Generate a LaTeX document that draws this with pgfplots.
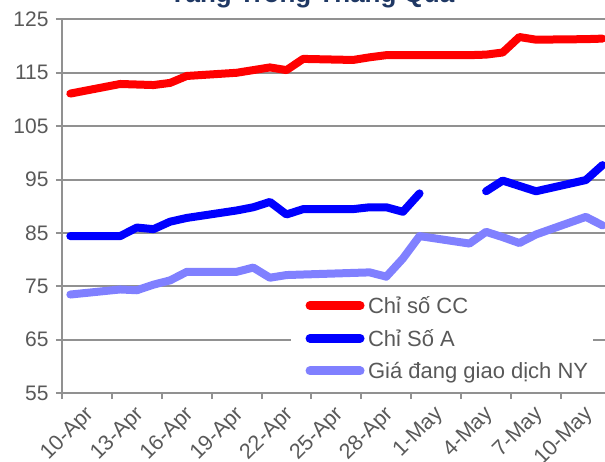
\documentclass[border=0pt]{standalone}
\usepackage{fontspec}
\setmainfont{Liberation Sans}
\usepackage{pgfplots}
\pgfplotsset{compat=1.18}
\definecolor{gridgray}{RGB}{145,145,145}
\definecolor{txtgray}{RGB}{89,89,89}
\definecolor{navy}{RGB}{31,56,100}
\definecolor{nyblue}{RGB}{128,128,255}
\begin{document}
\begin{tikzpicture}
\begin{axis}[
  scale only axis,
  width=548.8bp, height=373.6bp,
  xmin=-0.5, xmax=32.5, ymin=55, ymax=125,
  axis lines*=left,
  axis line style={-, draw=gridgray, line width=2bp},
  ytick={55,65,75,85,95,105,115,125},
  ymajorgrids,
  grid style={draw=gridgray, line width=2bp},
  xtick={-0.5,2.5,5.5,8.5,11.5,14.5,17.5,20.5,23.5,26.5,29.5},
  xticklabels={10-Apr,13-Apr,16-Apr,19-Apr,22-Apr,25-Apr,28-Apr,1-May,4-May,7-May,10-May},
  tick align=outside,
  major tick length=6bp,
  tick style={draw=gridgray, line width=2bp},
  /pgf/number format/assume math mode=true,
  yticklabel style={font=\fontsize{21bp}{24bp}\selectfont, text=txtgray, xshift=-4bp},
  xticklabel style={font=\fontsize{21.5bp}{24bp}\selectfont, text=txtgray, xshift=31bp, yshift=-10bp, rotate=45, anchor=east},
  title={Tăng Trong Tháng Qua},
  title style={font=\bfseries\fontsize{26bp}{30bp}\selectfont, text=navy, at={(axis description cs:0.4555,1.0305)}, anchor=base},
  unbounded coords=jump,
  legend style={at={(axis description cs:0.417,0.270)}, anchor=north west, fill=white, draw=none,
    font=\fontsize{22bp}{26bp}\selectfont, text=txtgray, row sep=10.5bp,
    /tikz/every odd column/.append style={column sep=1.5bp}},
  legend cell align=left,
  legend image code/.code={\path (0bp,0bp); \draw[#1, line width=9bp, line cap=round] (12bp,0bp) -- (62bp,0bp);},
  every axis plot/.append style={line width=8bp, line cap=round, line join=round, mark=none},
]
\addplot[color=red] coordinates {
(0,111.1) (3,112.9) (4,112.8) (5,112.7) (6,113.1) (7,114.4) (10,115.0) (11,115.5) (12,116.0) (13,115.5) (14,117.6) (17,117.4) (18,117.9) (19,118.3) (20,118.3) (21,118.3) (24,118.3) (25,118.4) (26,118.8) (27,121.7) (28,121.2) (31,121.3) (32,121.4)
};
\addlegendentry{Chỉ số CC}
\addplot[color=blue] coordinates {
(0,84.4) (3,84.4) (4,86.0) (5,85.7) (6,87.1) (7,87.8) (10,89.2) (11,89.8) (12,90.8) (13,88.45) (14,89.45) (17,89.45) (18,89.8) (19,89.8) (20,88.95) (21,92.4) (24,nan) (25,92.8) (26,94.8) (27,93.8) (28,92.8) (31,94.9) (32,97.7)
};
\addlegendentry{Chỉ Số A}
\addplot[color=nyblue] coordinates {
(0,73.45) (3,74.4) (4,74.25) (5,75.3) (6,76.1) (7,77.7) (10,77.7) (11,78.5) (12,76.6) (13,77.1) (14,77.2) (17,77.5) (18,77.6) (19,76.8) (20,80.2) (21,84.4) (24,83.0) (25,85.2) (26,84.2) (27,83.1) (28,84.7) (31,88.0) (32,86.4)
};
\addlegendentry{Giá đang giao dịch NY}
\end{axis}
\pgfresetboundingbox
\path[use as bounding box] ([shift={(-62bp,-69bp)}]current axis.south west) rectangle ([shift={(543bp,393bp)}]current axis.south west);
\end{tikzpicture}
\end{document}
